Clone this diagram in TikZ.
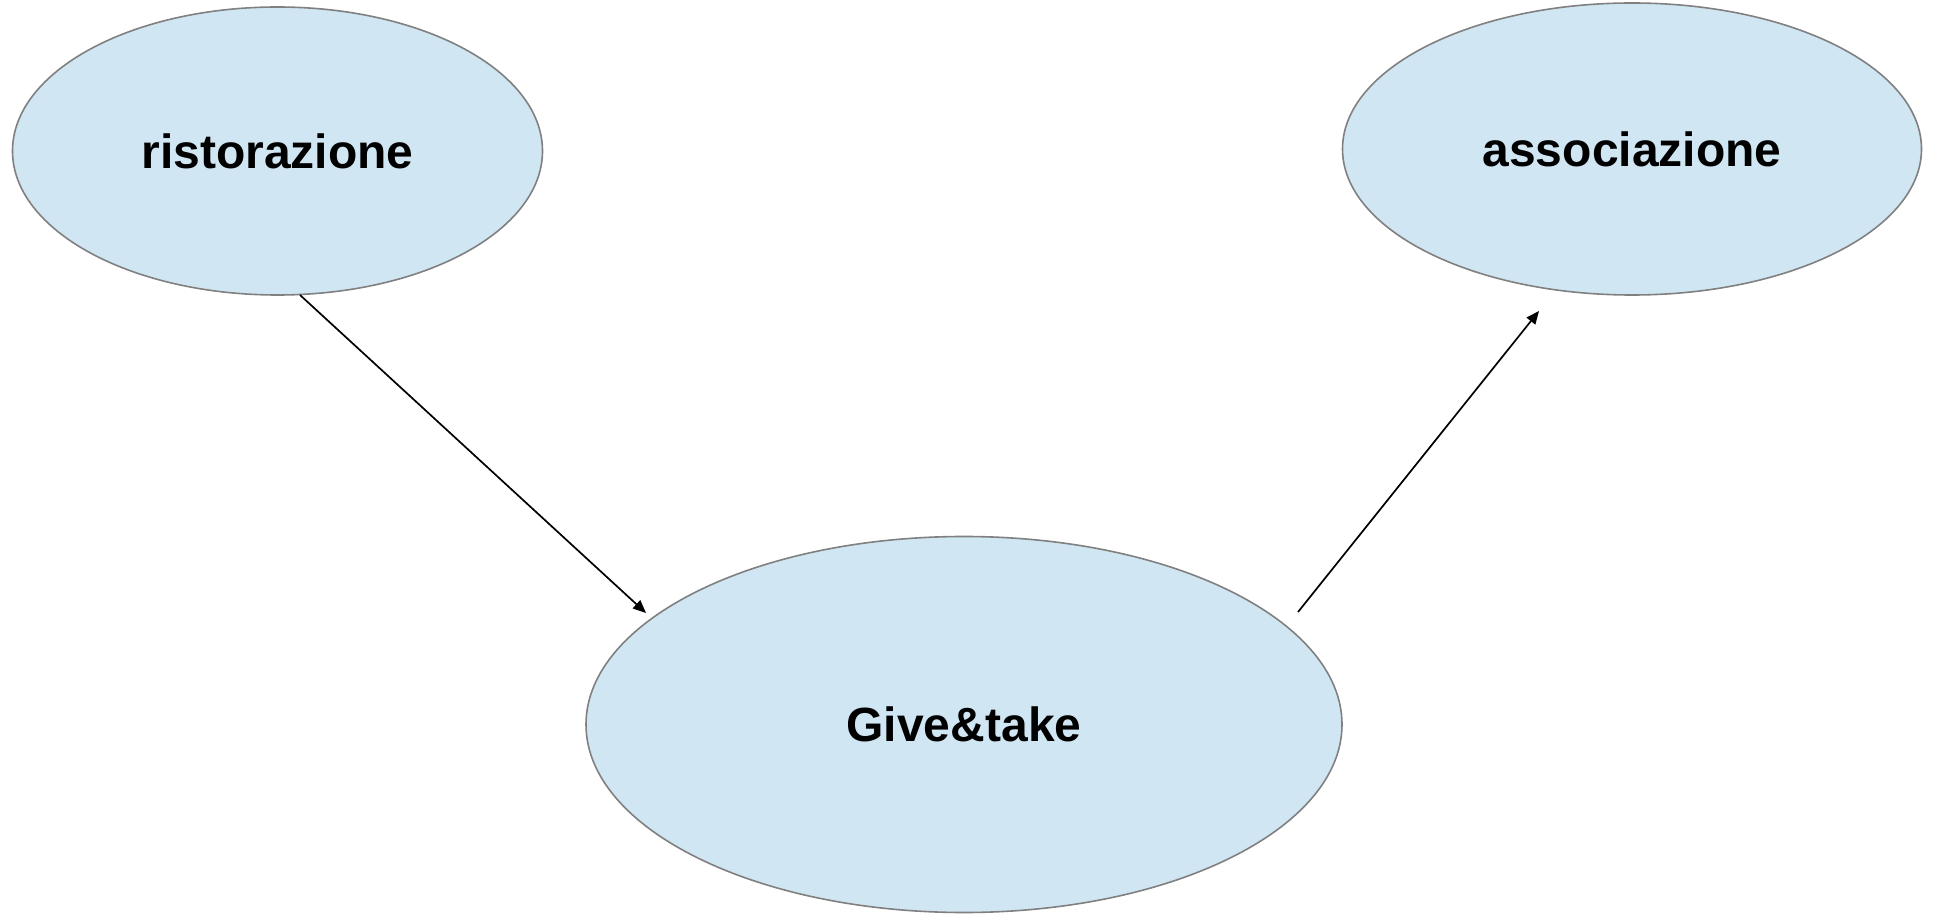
\documentclass[tikz,border=0pt]{standalone}
\usepackage{fontspec}
\setmainfont{Liberation Sans}
\usetikzlibrary{arrows.meta,shapes.geometric}
\definecolor{bubblefill}{RGB}{208,230,243}
\definecolor{bubbleline}{RGB}{128,128,128}
\begin{document}
\begin{tikzpicture}[x=0.5pt,y=-0.5pt,
  bubble/.style={ellipse,draw=bubbleline,fill=bubblefill,line width=0.8pt,inner sep=0pt,
    font=\fontsize{24}{28}\selectfont\bfseries,text=black},
  link/.style={draw=black,line width=0.85pt,-{Triangle[length=6.5pt,width=5.5pt]}}]
\useasboundingbox (0,0) rectangle (1934,914);
\clip (0,0) rectangle (1934,914);
\node[bubble,minimum width=265pt,minimum height=144pt] (rist) at (277.5,151) {ristorazione};
\node[bubble,minimum width=289.5pt,minimum height=146pt] (asso) at (1632,149) {associazione};
\node[bubble,minimum width=378pt,minimum height=188pt] (give) at (964,724.5) {Give\&take};
\coordinate (a1s) at (300,295);
\coordinate (a1e) at (646,613);
\coordinate (a2s) at (1298,612);
\coordinate (a2e) at (1539,311);
\draw[link] (a1s) -- (a1e);
\draw[link] (a2s) -- (a2e);
\end{tikzpicture}
\end{document}
